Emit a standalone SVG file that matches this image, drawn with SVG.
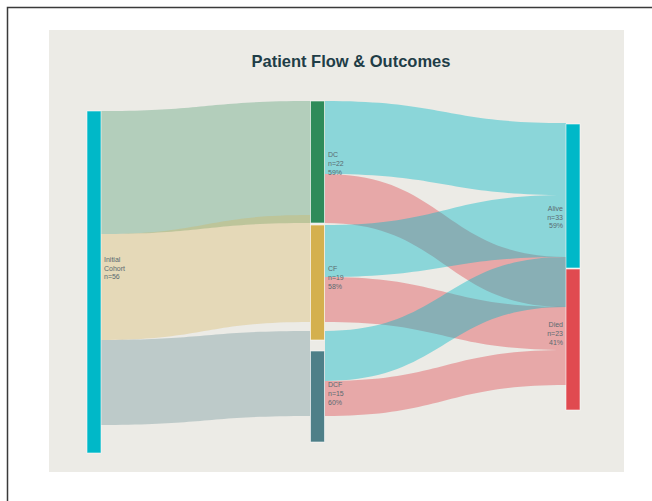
<svg xmlns="http://www.w3.org/2000/svg" width="652" height="501" viewBox="0 0 652 501">
<style>
.lbl{font-family:"Liberation Sans",Arial,sans-serif;font-size:7px;fill:#5a6a70}
.r{text-anchor:end}
.node{stroke:#ffffff;stroke-opacity:0.7;stroke-width:0.8}
.fl{fill-opacity:0.3}
.fr{fill-opacity:0.41}
</style>
<rect x="0" y="0" width="652" height="501" fill="#ffffff"/>
<rect x="7.5" y="7.5" width="700" height="560" fill="none" stroke="#3a3a3a" stroke-width="1.5"/>
<rect x="49" y="30" width="575" height="442" fill="#ecebe6"/>
<text x="351" y="67" text-anchor="middle" font-family="'Liberation Sans',Arial,sans-serif" font-size="16.5" font-weight="bold" fill="#1f3d47">Patient Flow &amp; Outcomes</text>
<g id="connectors">
  <path class="fl" fill="#2e8b5a" d="M101,111 C205,111 205,101 310,101 L310,223 C205,223 205,234 101,234 Z"/>
  <path class="fl" fill="#d4b04e" d="M101,234 C205,234 205,215 310,215 L310,322 C205,322 205,340 101,340 Z"/>
  <path class="fl" fill="#4e7f88" d="M101,340 C205,340 205,331 310,331 L310,416 C205,416 205,425 101,425 Z"/>
  <path class="fr" fill="#e04a50" d="M325,174 C445,174 445,257 566,257 L566,307 C445,307 445,223 325,223 Z"/>
  <path class="fr" fill="#e04a50" d="M325,277 C445,277 445,307 566,307 L566,350 C445,350 445,322 325,322 Z"/>
  <path class="fr" fill="#e04a50" d="M325,381 C445,381 445,350 566,350 L566,385 C445,385 445,416 325,416 Z"/>
  <path class="fr" fill="#00b8c8" d="M325,101 C445,101 445,123 566,123 L566,195 C445,195 445,174 325,174 Z"/>
  <path class="fr" fill="#00b8c8" d="M325,225 C445,225 445,195 566,195 L566,257 C445,257 445,277 325,277 Z"/>
  <path class="fr" fill="#00b8c8" d="M325,331 C445,331 445,257 566,257 L566,307 C445,307 445,381 325,381 Z"/>
</g>
<g id="initial">
  <rect class="node" x="87" y="111" width="14" height="342" fill="#00b8c8"/>
  <text class="lbl" x="104" y="262">Initial</text>
  <text class="lbl" x="104" y="271">Cohort</text>
  <text class="lbl" x="104" y="279">n=56</text>
</g>
<g id="dc">
  <rect class="node" x="310.5" y="101" width="14" height="122" fill="#2e8b5a"/>
  <text class="lbl" x="328" y="157">DC</text>
  <text class="lbl" x="328" y="166">n=22</text>
  <text class="lbl" x="328" y="175">59%</text>
</g>
<g id="cf">
  <rect class="node" x="310.5" y="225" width="14" height="115" fill="#d4b04e"/>
  <text class="lbl" x="328" y="271">CF</text>
  <text class="lbl" x="328" y="280">n=19</text>
  <text class="lbl" x="328" y="289">58%</text>
</g>
<g id="dcf">
  <rect class="node" x="310.5" y="351" width="14" height="91" fill="#4e7f88"/>
  <text class="lbl" x="328" y="387">DCF</text>
  <text class="lbl" x="328" y="396">n=15</text>
  <text class="lbl" x="328" y="405">60%</text>
</g>
<g id="alive">
  <rect class="node" x="566" y="124" width="14" height="144" fill="#00b8c8"/>
  <text class="lbl r" x="563" y="211">Alive</text>
  <text class="lbl r" x="563" y="220">n=33</text>
  <text class="lbl r" x="563" y="228">59%</text>
</g>
<g id="died">
  <rect class="node" x="566" y="269" width="14" height="141" fill="#e04a50"/>
  <text class="lbl r" x="563" y="327">Died</text>
  <text class="lbl r" x="563" y="336">n=23</text>
  <text class="lbl r" x="563" y="345">41%</text>
</g>
</svg>
